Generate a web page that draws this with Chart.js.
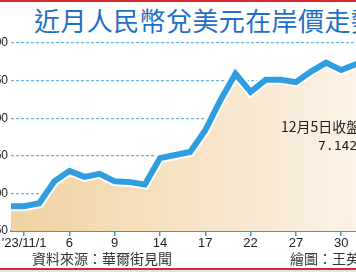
<!DOCTYPE html>
<html lang="zh-Hant">
<head>
<meta charset="UTF-8">
<title>近月人民幣兌美元在岸價走勢</title>
<script src="https://cdn.jsdelivr.net/npm/chart.js"></script>
<style>
    body { margin: 0; width: 356px; height: 272px; overflow: hidden; background: #fff; position: relative; font-family: "Noto Sans CJK TC", sans-serif; }
    .linhaTopo { position: absolute; left: 0; top: 0; width: 356px; height: 2px; background: #d7282f; }
    .linhaBase { position: absolute; left: 0; top: 268px; width: 356px; height: 2px; background: #d7282f; }
    .faixaBase { position: absolute; left: 0; top: 270px; width: 356px; height: 2px; background: #dde5ee; }
    .titulo { position: absolute; left: 34px; top: 7px; font-size: 26px; line-height: 26px; color: #1f6fc6; white-space: nowrap; letter-spacing: 0.4px; }
    .grafico { position: absolute; left: -30px; top: 0; width: 430px; height: 272px; }
    .nota { position: absolute; left: 281px; top: 117px; font-size: 14px; line-height: 19px; color: #222; white-space: nowrap; }
    .nota span { display: block; padding-left: 37px; font-family: "DejaVu Sans Mono", monospace; font-size: 13px; }
    .fonte { position: absolute; left: 32px; top: 249px; font-size: 14px; line-height: 18px; color: #333; white-space: nowrap; }
    .autor { position: absolute; left: 290px; top: 249px; font-size: 14px; line-height: 18px; color: #333; white-space: nowrap; }
</style>
</head>
<body>
    <div class="linhaTopo"></div>
    <div class="titulo">近月人民幣兌美元在岸價走勢</div>
    <div class="grafico"><canvas id="myChartCanvas" width="430" height="272"></canvas></div>
    <div class="nota">12月5日收盤價<span>7.142</span></div>
    <div class="fonte">資料來源：華爾街見聞</div>
    <div class="autor">繪圖：王英傑</div>
    <div class="linhaBase"></div>
    <div class="faixaBase"></div>

<script>
    // dias de negociação, 2023/10/31 a 2023/12/5
    var dias = ['10/31', '11/1', '11/2', '11/3', '11/6', '11/7', '11/8', '11/9', '11/10', '11/13',
        '11/14', '11/15', '11/16', '11/17', '11/20', '11/21', '11/22', '11/23', '11/24', '11/27',
        '11/28', '11/29', '11/30', '12/1', '12/4', '12/5'];
    var cotacoes = [7.317, 7.317, 7.313, 7.284, 7.270, 7.278, 7.274, 7.284, 7.285, 7.288,
        7.253, 7.249, 7.245, 7.216, 7.176, 7.141, 7.165, 7.149, 7.149, 7.152,
        7.138, 7.126, 7.136, 7.128, 7.133, 7.142];
    // posições (índice do dia) e textos dos ticks do eixo x
    var ticksX = [1, 4, 7, 10, 13, 16, 19, 22, 25];
    var textosX = ["'23/11/1", '6', '9', '14', '17', '22', '27', '30', '12/5'];
    var ticksY = [7.10, 7.15, 7.20, 7.25, 7.30, 7.35];

    var pontos = [];
    for (var i = 0; i < cotacoes.length; i++) {
        pontos.push({ x: i, y: cotacoes[i] });
    }

    function preenchimento(context) {
        const area = context.chart.chartArea;
        if (!area) return '#f3dcb0';
        const g = context.chart.ctx.createLinearGradient(area.left, 0, area.right, 0);
        g.addColorStop(0, '#efd3a0');
        g.addColorStop(0.5, '#f7e4c9');
        g.addColorStop(1, '#fdf5ec');
        return g;
    }

    const config = {
        type: 'line',
        data: {
            datasets: [
                {
                    data: pontos,
                    borderColor: '#2f9de0',
                    borderWidth: 6,
                    pointRadius: 0,
                    fill: false,
                    tension: 0,
                    borderJoinStyle: 'miter'
                },
                {
                    data: pontos,
                    borderColor: '#ffffff',
                    borderWidth: 10,
                    pointRadius: 0,
                    fill: 'start',
                    backgroundColor: preenchimento,
                    tension: 0,
                    borderJoinStyle: 'miter'
                }
            ]
        },
        options: {
            responsive: false,
            animation: false,
            layout: { padding: { top: 43, right: 9, bottom: 0, left: 0 } },
            scales: {
                x: {
                    type: 'linear',
                    min: 0.13,
                    max: 25.3,
                    afterBuildTicks: function (scale) {
                        scale.ticks = ticksX.map(function (v) { return { value: v }; });
                    },
                    afterFit: function (scale) { scale.height = 41; },
                    ticks: {
                        autoSkip: false,
                        maxRotation: 0,
                        padding: 0,
                        color: '#222',
                        font: { family: 'Liberation Sans', size: 13 },
                        callback: function (v) {
                            return textosX[ticksX.indexOf(v)];
                        }
                    },
                    grid: { drawOnChartArea: false, drawTicks: true, tickLength: 5, color: '#2f9de0', lineWidth: 1.5 },
                    border: { display: true, color: '#2f9de0', width: 2 }
                },
                y: {
                    reverse: true,
                    min: 7.10,
                    max: 7.35,
                    afterBuildTicks: function (scale) {
                        scale.ticks = ticksY.map(function (v) { return { value: v }; });
                    },
                    afterFit: function (scale) { scale.width = 41; },
                    ticks: {
                        padding: 3,
                        color: '#222',
                        font: { family: 'Liberation Sans', size: 12 },
                        callback: function (v) { return v.toFixed(3); }
                    },
                    grid: { drawTicks: false, color: '#62b6e6', lineWidth: 1.3 },
                    border: { display: false, dash: [3, 2] }
                }
            },
            plugins: {
                legend: { display: false },
                tooltip: { enabled: false }
            }
        }
    };

    let myChart = new Chart(document.getElementById('myChartCanvas'), config);
</script>
</body>
</html>
